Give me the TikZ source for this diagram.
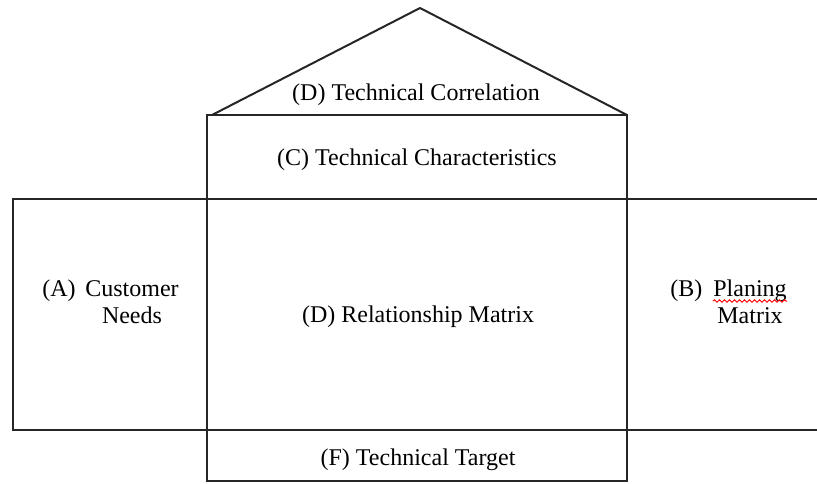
\documentclass[tikz,border=0pt]{standalone}
\usepackage{fontspec}
\setmainfont{Liberation Serif}
\usetikzlibrary{decorations.pathmorphing}
\begin{document}
\begin{tikzpicture}[x=0.5pt,y=-0.5pt,
  edge/.style={line width=1pt, black!85},
  lbl/.style={anchor=base, inner sep=0pt, font=\fontsize{12}{13.8}\selectfont},
  lblw/.style={lbl, anchor=base west},
  squiggle/.style={red, line width=0.5pt, decorate, decoration={snake, amplitude=0.6pt, segment length=2.5pt}}]
\useasboundingbox (0,0) rectangle (817,483);
% key points
\coordinate (apex) at (420,8);
\coordinate (roofL) at (212,115);
\coordinate (roofR) at (627,115);
\coordinate (cTL) at (207,115);
\coordinate (cBR) at (627,481);
\coordinate (hTopL) at (13,199);
\coordinate (hTopR) at (817,199);
\coordinate (hBotL) at (13,430);
\coordinate (hBotR) at (817,430);
% shapes
\draw[edge] (roofL) -- (apex) -- (roofR);
\draw[edge] (cTL) rectangle (cBR);
\draw[edge] (hTopR) -- (hTopL) -- (hBotL) -- (hBotR);
% texts
\node[lbl] (corr) at (416,100) {(D) Technical Correlation};
\node[lbl] (char) at (417,165) {(C) Technical Characteristics};
\node[lbl] (rel) at (418,322) {(D) Relationship Matrix};
\node[lbl] (tgt) at (418,465) {(F) Technical Target};
\node[lblw] (A) at (42,296) {(A)};
\node[lbl] (cust) at (132,296) {Customer};
\node[lbl] (needs) at (132,323) {Needs};
\node[lblw] (B) at (670,296) {(B)};
\node[lbl] (plan) at (750,296) {Planing};
\node[lbl] (matrix) at (750,323) {Matrix};
\draw[squiggle] ([yshift=-2.5pt]plan.base west) -- ([yshift=-2.5pt]plan.base east);
\end{tikzpicture}
\end{document}
